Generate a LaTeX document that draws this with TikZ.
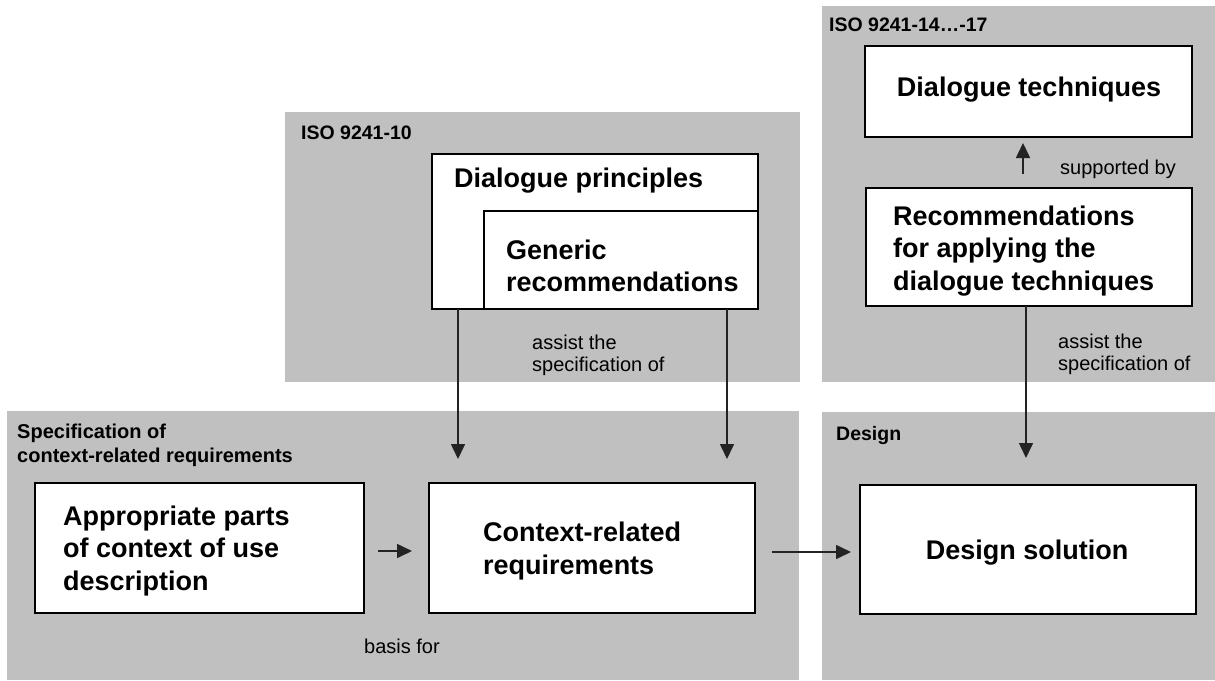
\documentclass[tikz,border=0pt]{standalone}
\usepackage{fontspec}
\setmainfont{Liberation Sans}
\usetikzlibrary{arrows.meta}
\definecolor{panelgray}{RGB}{192,192,192}
\definecolor{linegray}{RGB}{35,35,35}

\begin{document}
\begin{tikzpicture}[x=1pt,y=-1pt,
  panel/.style={fill=panelgray, draw=none, anchor=north west, inner sep=0pt, outer sep=0pt},
  box/.style={fill=white, draw=black, line width=1.3pt, anchor=north west, inner sep=0pt, outer sep=0pt},
  title/.style={font=\fontsize{19.5}{24}\selectfont\bfseries, inner sep=0pt, anchor=west, align=left},
  label/.style={font=\fontsize{20}{22}\selectfont, inner sep=0pt, anchor=west, align=left},
  boxtext/.style={font=\fontsize{27}{32.5}\selectfont\bfseries, inner sep=0pt, anchor=west, align=left},
  arr/.style={draw=linegray, line width=1.6pt, -{Triangle[length=15pt,width=14pt]}}]

\useasboundingbox (0,0) rectangle (1215,680);

% grey group panels
\node[panel, minimum width=515pt, minimum height=270pt] (p10) at (285,112) {};
\node[panel, minimum width=393pt, minimum height=376pt] (p14) at (822,6) {};
\node[panel, minimum width=792pt, minimum height=269pt] (pspec) at (7,411) {};
\node[panel, minimum width=393pt, minimum height=268pt] (pdes) at (822,412) {};

% panel titles
\node[title] (t10) at (301,133) {ISO 9241-10};
\node[title] (t14) at (829,25) {ISO 9241-14…-17};
\node[title, font=\fontsize{20}{24}\selectfont\bfseries] (tspec) at (17,445) {Specification of\\context-related requirements};
\node[title] (tdes) at (836,435) {Design};

% boxes of ISO 9241-10
\node[box, minimum width=326pt, minimum height=155pt] (dp) at (432,154) {};
\node[box, minimum width=274pt, minimum height=98pt] (gr) at (484,211) {};
\node[boxtext] (dptext) at (454,181) {Dialogue principles};
\node[boxtext] (grtext) at (506,266) {Generic\\recommendations};

% boxes of ISO 9241-14...-17
\node[box, minimum width=327pt, minimum height=91pt] (dt) at (865,46) {};
\node[boxtext, anchor=center] (dttext) at (1029,90) {Dialogue techniques};
\node[box, minimum width=326pt, minimum height=118pt] (rec) at (866,188) {};
\node[boxtext] (rectext) at (893,251) {Recommendations\\for applying the\\dialogue techniques};

% boxes of the lower panels
\node[box, minimum width=329pt, minimum height=130pt] (app) at (35,483) {};
\node[boxtext] (apptext) at (63,551) {Appropriate parts\\of context of use\\description};
\node[box, minimum width=326pt, minimum height=130pt] (crr) at (429,483) {};
\node[boxtext] (crrtext) at (483,551) {Context-related\\requirements};
\node[box, minimum width=336pt, minimum height=129pt] (ds) at (860,485) {};
\node[boxtext, anchor=center] (dstext) at (1027,553) {Design solution};

% connector labels
\node[label] (lmid) at (532,355) {assist the\\specification of};
\node[label] (lright) at (1058,354) {assist the\\specification of};
\node[label] (lsup) at (1060,169) {supported by};
\node[label] (lbasis) at (364,646) {basis for};

% columns of the vertical connectors
\coordinate (colA) at (458,0);
\coordinate (colB) at (727,0);
\coordinate (colC) at (1026,0);
\coordinate (colD) at (1023,0);

% connectors
\draw[arr, shorten >=24pt] (dp.south -| colA) -- (crr.north -| colA);
\draw[arr, shorten >=24pt] (dp.south -| colB) -- (crr.north -| colB);
\draw[arr, shorten >=27pt] (rec.south -| colC) -- (ds.north -| colC);
\draw[arr, shorten <=14pt, shorten >=6pt] (rec.north -| colD) -- (dt.south -| colD);
\draw[arr, shorten <=14pt, shorten >=17pt] ([yshift=-3pt]app.east) -- ([yshift=-3pt]crr.west);
\draw[arr, shorten <=17pt, shorten >=9pt] ([yshift=-4pt]crr.east) -- ([yshift=-4pt]crr.east -| ds.west);
\end{tikzpicture}
\end{document}
